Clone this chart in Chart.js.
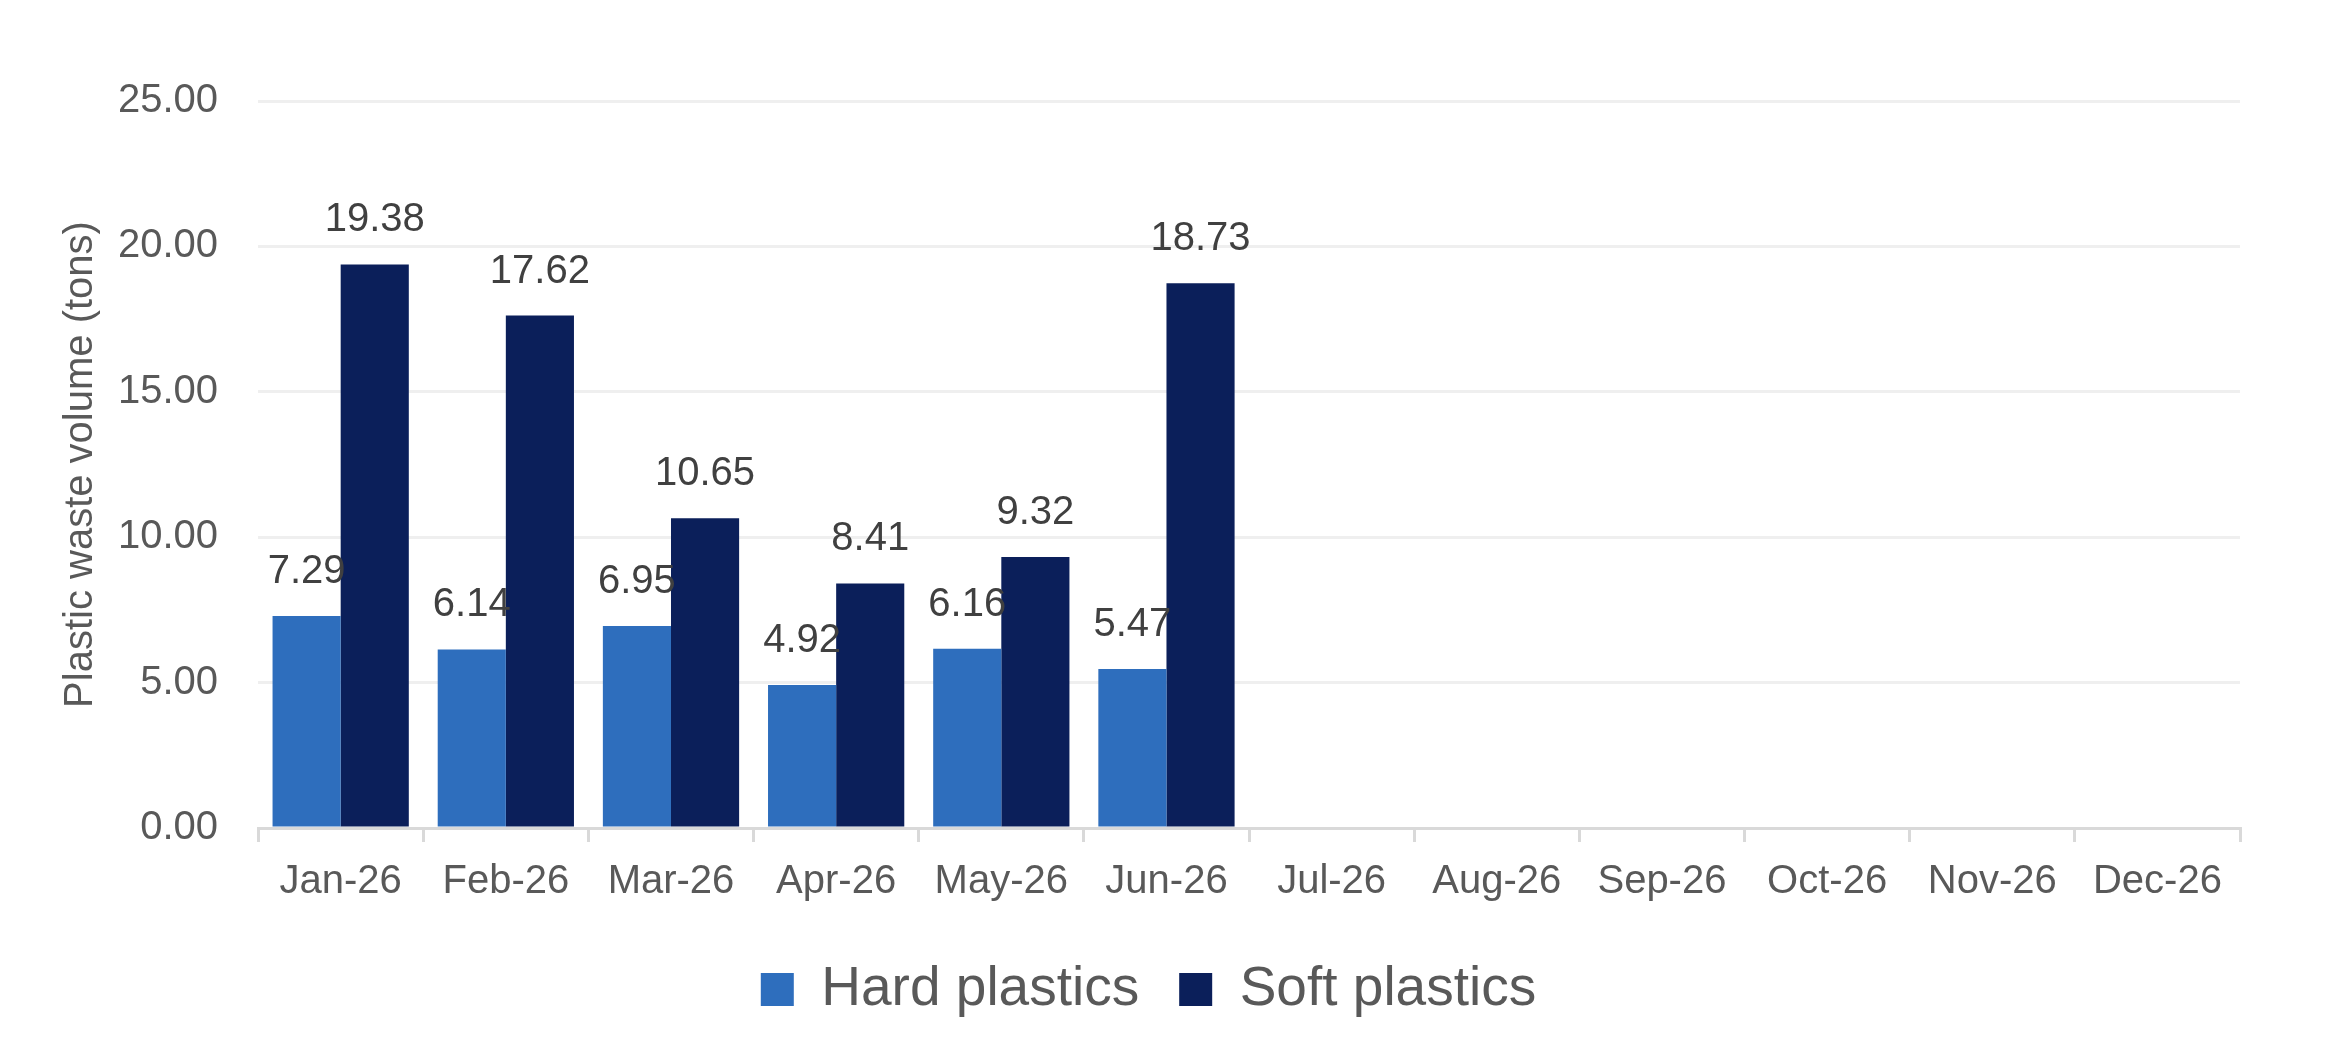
<!DOCTYPE html>
<html>
<head>
<meta charset="utf-8">
<script src="https://cdn.jsdelivr.net/npm/chart.js@4.4.1/dist/chart.umd.min.js"></script>
<style>
html,body{margin:0;padding:0;background:#fff;}
#wrap{width:2334px;height:1056px;}
</style>
</head>
<body>
<div id="wrap"><canvas id="chart" width="2334" height="1056"></canvas></div>
<script>
const months=["Jan-26","Feb-26","Mar-26","Apr-26","May-26","Jun-26","Jul-26","Aug-26","Sep-26","Oct-26","Nov-26","Dec-26"];
const hardPlastics=[7.29,6.14,6.95,4.92,6.16,5.47,null,null,null,null,null,null];
const softPlastics=[19.38,17.62,10.65,8.41,9.32,18.73,null,null,null,null,null,null];
const seriesNames=["Hard plastics","Soft plastics"];
const yTitle="Plastic waste volume (tons)";

const font="'Liberation Sans', Arial, sans-serif";

// value labels above bars
const valueLabels={
id:"valueLabels",
afterDatasetsDraw(c){
const ctx=c.ctx;
ctx.save();
ctx.font="40px "+font;
ctx.fillStyle="#404040";
ctx.textAlign="center";
ctx.textBaseline="middle";
c.data.datasets.forEach((ds,i)=>{
c.getDatasetMeta(i).data.forEach((bar,j)=>{
let v=ds.data[j];
if(v==null) return;
ctx.fillText(v.toFixed(2),bar.x,bar.y-44);
});
});
ctx.restore();
}
};

new Chart(document.getElementById("chart"),{
type:"bar",
data:{
labels:months,
datasets:[
{label:seriesNames[0],data:hardPlastics,backgroundColor:"#2E6EBD",borderWidth:0},
{label:seriesNames[1],data:softPlastics,backgroundColor:"#0B1F5A",borderWidth:0}
]
},
plugins:[valueLabels],
options:{
responsive:false,
animation:false,
devicePixelRatio:1,
categoryPercentage:0.825,
barPercentage:1.0,
layout:{padding:{top:101,right:94,left:57,bottom:29}},
plugins:{
legend:{
position:"bottom",
labels:{
font:{family:font,size:55},
color:"#595959",
boxWidth:33,
boxHeight:33,
padding:40
}
},
tooltip:{enabled:false}
},
scales:{
x:{
grid:{display:true,drawOnChartArea:false,drawTicks:true,tickLength:14,color:"#d9d9d9",lineWidth:3},
border:{display:true,color:"#d9d9d9",width:3},
ticks:{font:{family:font,size:40},color:"#595959",padding:16,maxRotation:0,autoSkip:false}
},
y:{
min:0,
max:25,
ticks:{stepSize:5,font:{family:font,size:40},color:"#595959",padding:40,callback:v=>v.toFixed(2)},
grid:{color:"#efefef",lineWidth:3,drawTicks:false},
border:{display:false},
title:{display:true,text:yTitle,font:{family:font,size:40},color:"#595959",padding:{top:0,bottom:-27}}
}
}
}
});
</script>
</body>
</html>
